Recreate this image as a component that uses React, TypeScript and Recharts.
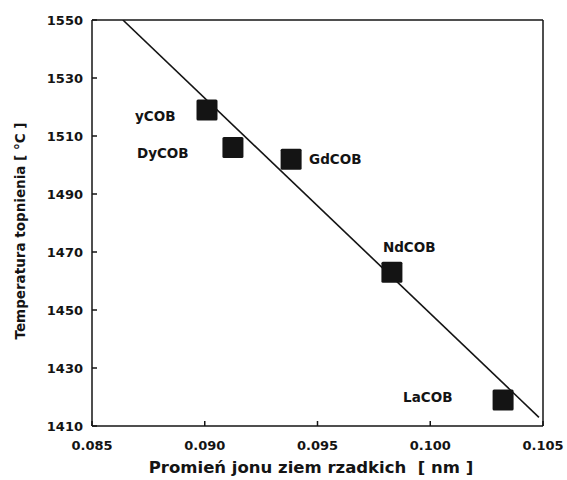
import React from "react";
import {
  ComposedChart,
  Scatter,
  Line,
  XAxis,
  YAxis,
  ReferenceLine,
  Customized,
} from "recharts";

// Rare-earth cobalt borates: ionic radius vs melting temperature
const compounds = ["yCOB", "DyCOB", "GdCOB", "NdCOB", "LaCOB"];
const ionRadius = [0.0901, 0.09125, 0.09383, 0.0983, 0.10323];
const meltingTemp = [1519, 1506, 1502, 1463, 1419];

// linear fit, end points
const fitRadius = [0.08637, 0.10482];
const fitTemp = [1550, 1413];

const xTicks = [0.085, 0.09, 0.095, 0.1, 0.105];
const yTicks = [1410, 1430, 1450, 1470, 1490, 1510, 1530, 1550];

const points = compounds.map((name, i) => ({ name, r: ionRadius[i], t: meltingTemp[i] }));
const fitLine = fitRadius.map((r, i) => ({ r, t: fitTemp[i] }));

const INK = "#141414";
const FONT = "'DejaVu Sans', sans-serif";

// where each compound name sits relative to its marker
const labelOffset: Record<string, [number, number]> = {
  yCOB: [-72, 6],
  DyCOB: [-96, 5],
  GdCOB: [18, 0],
  NdCOB: [-9, -25],
  LaCOB: [-100, -3],
};

const SquareMarker = (props: any) => {
  const { cx, cy, payload } = props;
  const s = 21;
  const [dx, dy] = labelOffset[payload.name] || [12, 0];
  return (
    <g>
      <rect x={cx - s / 2} y={cy - s / 2} width={s} height={s} rx={1.5} fill={INK} />
      <text
        x={cx + dx}
        y={cy + dy}
        dominantBaseline="central"
        textAnchor="start"
        fontFamily={FONT}
        fontWeight="bold"
        fontSize={13.5}
        fill={INK}
      >
        {payload.name}
      </text>
    </g>
  );
};

const YTitle = () => (
  <text
    transform="translate(25,231) rotate(-90)"
    textAnchor="middle"
    fontFamily={FONT}
    fontWeight="bold"
    fontSize={13.5}
    fill={INK}
    style={{ whiteSpace: "pre" }}
  >
    Temperatura topnienia [ °C ]
  </text>
);

const XTitle = () => (
  <text
    x={311}
    y={467}
    textAnchor="middle"
    dominantBaseline="central"
    fontFamily={FONT}
    fontWeight="bold"
    fontSize={16.5}
    fill={INK}
    style={{ whiteSpace: "pre" }}
  >
    Promień jonu ziem rzadkich  [ nm ]
  </text>
);

const tickStyle = { fontFamily: FONT, fontWeight: "bold", fontSize: 13, fill: INK };

export default function App() {
  return (
    <div style={{ position: "absolute", left: 0, top: 0, background: "#fff" }}>
      <ComposedChart
        width={567}
        height={480}
        data={points}
        margin={{ top: 20, right: 24, bottom: 0, left: 0 }}
      >
        <XAxis
          dataKey="r"
          type="number"
          domain={[0.085, 0.105]}
          ticks={xTicks}
          allowDataOverflow
          tickFormatter={(v: number) => v.toFixed(3)}
          height={54}
          tickSize={-5}
          tickMargin={20}
          stroke={INK}
          strokeWidth={1.5}
          tick={tickStyle}
        />
        <YAxis
          dataKey="t"
          type="number"
          domain={[1410, 1550]}
          ticks={yTicks}
          allowDataOverflow
          width={92}
          tickSize={-5}
          tickMargin={14}
          stroke={INK}
          strokeWidth={1.5}
          tick={tickStyle}
        />
        <ReferenceLine x={0.105} stroke={INK} strokeWidth={1.5} />
        <ReferenceLine y={1550} stroke={INK} strokeWidth={1.5} />
        <Line
          data={fitLine}
          dataKey="t"
          type="linear"
          stroke={INK}
          strokeWidth={1.6}
          dot={false}
          activeDot={false}
          isAnimationActive={false}
        />
        <Scatter dataKey="t" shape={<SquareMarker />} isAnimationActive={false} />
        <Customized component={YTitle} />
        <Customized component={XTitle} />
      </ComposedChart>
    </div>
  );
}
